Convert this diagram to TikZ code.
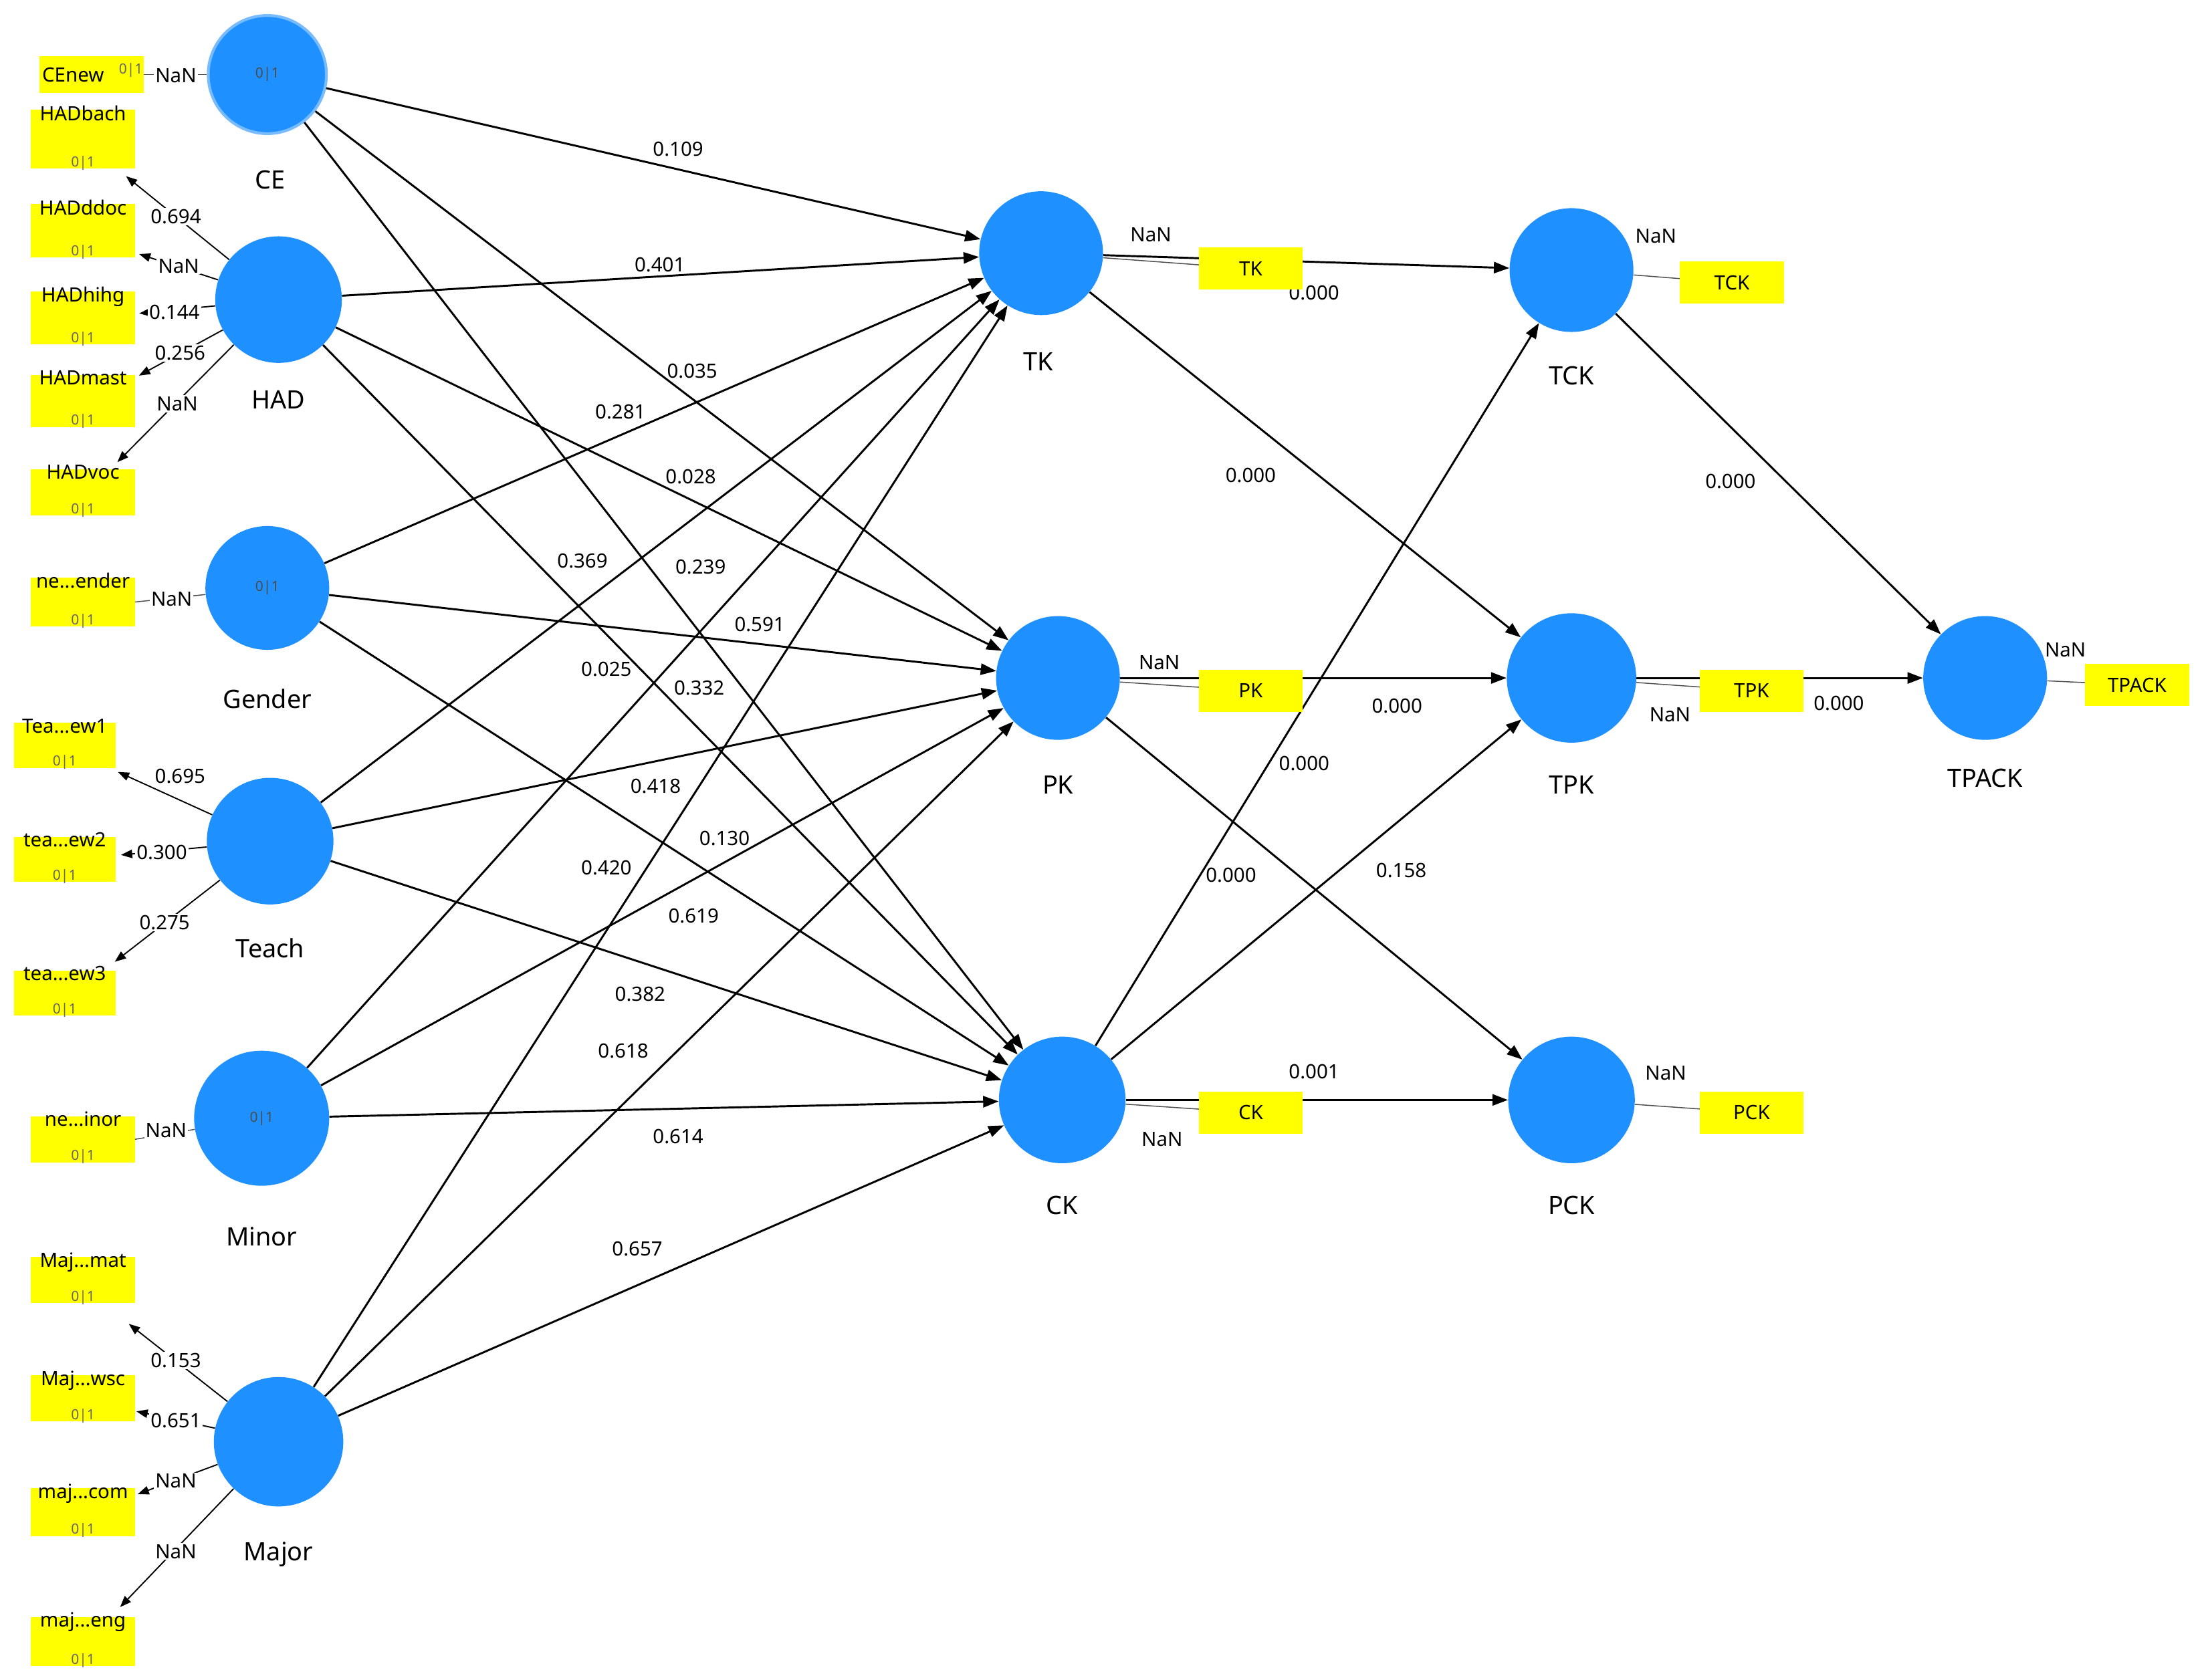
\documentclass[tikz,border=0pt]{standalone}
\usepackage{fontspec}
\setmainfont{Noto Sans}
\usetikzlibrary{arrows.meta}
\definecolor{lv}{HTML}{1E90FF}
\definecolor{yb}{HTML}{FFFF00}
\def\ddd{...}
\begin{document}
\begin{tikzpicture}[x=1pt,y=-1pt,
 lat/.style={circle,fill=lv,inner sep=0pt,minimum size=88},
 ybox/.style={rectangle,fill=yb,inner sep=0pt,minimum width=74,minimum height=30},
 lt/.style={font=\fontsize{18}{20}\selectfont\bfseries},
 it/.style={font=\fontsize{14}{16}\selectfont\bfseries,inner sep=0pt},
 zt/.style={font=\fontsize{10}{11}\selectfont,text=black!60,inner sep=0pt},
 pl/.style={font=\fontsize{14}{16}\selectfont\bfseries,inner sep=1pt},
 nan/.style={font=\fontsize{14}{16}\selectfont,inner sep=1pt},
 path/.style={line width=1.4pt,-{Triangle[length=11pt,width=8pt]}},
 ind/.style={line width=0.7pt,black!70},
 inda/.style={line width=0.9pt,-{Triangle[length=8pt,width=6pt]},shorten >=2pt}]
\useasboundingbox (0,0) rectangle (1568,1194.4);
% latent nodes
\node[lat,draw=lv!60,line width=2pt,minimum size=84] (CE) at (190,53) {};
\node[lat,minimum size=90] (HAD) at (198,213) {};
\node[lat] (Gender) at (190,418) {};
\node[lat,minimum size=90] (Teach) at (192,598) {};
\node[lat,minimum size=96] (Minor) at (186,795) {};
\node[lat,minimum size=92] (Major) at (198,1025) {};
\node[lat] (TK) at (740,180) {};
\node[lat] (PK) at (752,482) {};
\node[lat,minimum size=90] (CK) at (755,782) {};
\node[lat] (TCK) at (1117,192) {};
\node[lat,minimum size=92] (TPK) at (1117,482) {};
\node[lat,minimum size=90] (PCK) at (1117,782) {};
\node[lat] (TPACK) at (1411,482) {};
\foreach \n in {CE,Gender,Minor}{\node[zt,text=black!70] at (\n) {0|1};}
\node[lt] at (192,128) {CE};
\node[lt] at (198,284) {HAD};
\node[lt] at (190,497) {Gender};
\node[lt] at (192,674) {Teach};
\node[lt] at (186,879) {Minor};
\node[lt] at (198,1105) {Major};
\node[lt] at (738,257) {TK};
\node[lt] at (752,558) {PK};
\node[lt] at (755,857) {CK};
\node[lt] at (1117,267) {TCK};
\node[lt] at (1117,558) {TPK};
\node[lt] at (1117,857) {PCK};
\node[lt] at (1411,553) {TPACK};
% structural paths
\foreach \s in {CE,HAD,Gender,Teach,Minor,Major}{
 \foreach \t in {TK,PK,CK}{\draw[path] (\s) -- (\t);}}
\draw[path] (TK) -- (TCK);
\draw[path] (TK) -- (TPK);
\draw[path] (PK) -- (TPK);
\draw[path] (PK) -- (PCK);
\draw[path] (CK) -- (TCK);
\draw[path] (CK) -- (TPK);
\draw[path] (CK) -- (PCK);
\draw[path] (TCK) -- (TPACK);
\draw[path] (TPK) -- (TPACK);
% path labels
\foreach \v/\x/\y in {0.109/482/106,0.401/469/188,0.035/492/264,0.281/441/293,0.028/491/339,
 0.369/414/399,0.239/498/403,0.591/540/444,0.025/431/476,0.332/497/489,0.418/466/559,
 0.130/515/596,0.420/431/617,0.619/493/651,0.382/455/707,0.618/443/747,0.614/482/808,
 0.657/453/888,0.000/934/208,0.000/889/338,0.000/993/502,0.158/996/619,0.000/927/543,
 0.000/875/622,0.001/934/762,0.000/1230/342,0.000/1307/500}
 {\node[pl] at (\x,\y) {\v};}
% right indicators
\draw[ind] (TK) -- (889,191);
\draw[ind] (TCK) -- (1231,201);
\draw[ind] (PK) -- (889,491);
\draw[ind] (TPK) -- (1245,491);
\draw[ind] (TPACK) -- (1519,487);
\draw[ind] (CK) -- (889,791);
\draw[ind] (PCK) -- (1245,791);
\node[ybox] (iTK) at (889,191) {}; \node[it] at (iTK) {TK};
\node[ybox] (iTCK) at (1231,201) {}; \node[it] at (iTCK) {TCK};
\node[ybox] (iPK) at (889,491) {}; \node[it] at (iPK) {PK};
\node[ybox] (iTPK) at (1245,491) {}; \node[it] at (iTPK) {TPK};
\node[ybox] (iTPACK) at (1519,487) {}; \node[it] at (iTPACK) {TPACK};
\node[ybox] (iCK) at (889,791) {}; \node[it] at (iCK) {CK};
\node[ybox] (iPCK) at (1245,791) {}; \node[it] at (iPCK) {PCK};
\node[nan] at (818,167) {NaN};
\node[nan] at (1177,168) {NaN};
\node[nan] at (824,471) {NaN};
\node[nan] at (1187,508) {NaN};
\node[nan] at (1468,462) {NaN};
\node[nan] at (826,810) {NaN};
\node[nan] at (1184,763) {NaN};
% left indicators
\foreach \n/\t/\cx/\cy/\w/\h in {hbach/HADbach/59/99/74/42, hddoc/HADddoc/59/164/74/38,
 hhihg/HADhihg/59/226/74/38, hmast/HADmast/59/285/74/37, hvoc/HADvoc/59/350/74/33,
 gend/ne\ddd ender/59/428/74/35, t1/Tea\ddd ew1/46/530/72/32, t2/tea\ddd ew2/46/611/72/32,
 t3/tea\ddd ew3/46/706/72/32, mino/ne\ddd inor/59/810/74/33, m1/Maj\ddd mat/59/910/74/33,
 m2/Maj\ddd wsc/59/994/74/33, m3/maj\ddd com/59/1075/74/34, m4/maj\ddd eng/59/1167/74/35}
 {\node[ybox,minimum width=\w,minimum height=\h] (\n) at (\cx,\cy) {};
  \node[it,anchor=north] at ([yshift=3]\n.north) {\t};
  \node[zt,anchor=south] at ([yshift=-1]\n.south) {0|1};}
\draw[ind] (CE) -- (102,53);
\draw[ind] (Gender) -- (96,428);
\draw[ind] (Minor) -- (96,810);
\node[ybox,minimum width=74,minimum height=26] (cenew) at (65,53) {};
\node[it,anchor=west] at ([xshift=2]cenew.west) {CEnew};
\node[zt] at (93,50) {0|1};
\node[pl,fill=white] at (125,54) {NaN};
\node[pl,fill=white] at (122,426) {NaN};
\node[pl,fill=white] at (118,804) {NaN};
\draw[inda] (HAD) -- (88,124);
\draw[inda] (HAD) -- (97,180);
\draw[inda] (HAD) -- (97,223);
\draw[inda] (HAD) -- (97,268);
\draw[inda] (HAD) -- (82,330);
\draw[inda] (Teach) -- (82,548);
\draw[inda] (Teach) -- (84,608);
\draw[inda] (Teach) -- (80,685);
\draw[inda] (Major) -- (90,940);
\draw[inda] (Major) -- (95,1003);
\draw[inda] (Major) -- (96,1063);
\draw[inda] (Major) -- (84,1144);
\foreach \v/\x/\y in {0.694/125/154,NaN/127/189,0.144/124/222,0.256/128/251,NaN/126/287,
 0.695/128/552,0.300/115/606,0.275/117/656,0.153/125/967,0.651/125/1010,NaN/125/1053,NaN/125/1103}
 {\node[pl,fill=white] at (\x,\y) {\v};}
\end{tikzpicture}
\end{document}
